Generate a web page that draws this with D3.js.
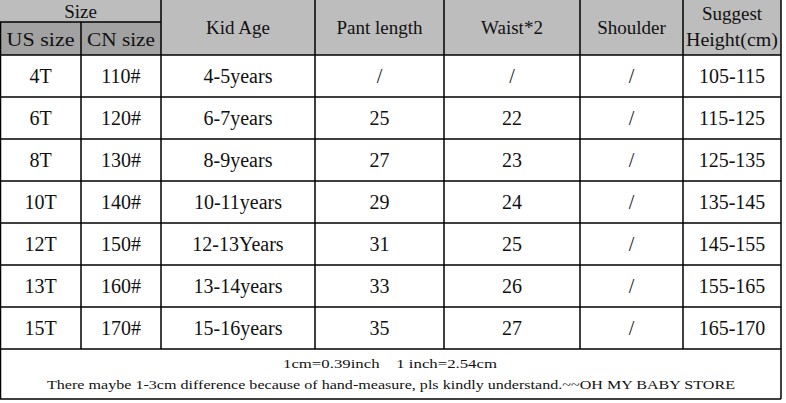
<!DOCTYPE html>
<html>
<head>
<meta charset="utf-8">
<script src="https://cdn.jsdelivr.net/npm/d3@7"></script>
<style>
  body { margin: 0; background: #fff; }
</style>
</head>
<body>
<div id="table"></div>
<script>
// table data, one array per column
var usSizes = ["4T", "6T", "8T", "10T", "12T", "13T", "15T"];
var cnSizes = ["110#", "120#", "130#", "140#", "150#", "160#", "170#"];
var kidAges = ["4-5years", "6-7years", "8-9years", "10-11years", "12-13Years", "13-14years", "15-16years"];
var pantLength = ["/", "25", "27", "29", "31", "33", "35"];
var waist2 = ["/", "22", "23", "24", "25", "26", "27"];
var shoulder = ["/", "/", "/", "/", "/", "/", "/"];
var suggestHeight = ["105-115", "115-125", "125-135", "135-145", "145-155", "155-165", "165-170"];

var headers = ["Kid Age", "Pant length", "Waist*2", "Shoulder"];
var footerNotes = ["1cm=0.39inch    1 inch=2.54cm",
    "There maybe 1-3cm difference because of hand-measure, pls kindly understand.~~OH MY BABY STORE"];

// layout
var width = 786, height = 403;
var colEdges = [0, 81, 161, 315, 444, 580, 683, 781];
var headTop = 0, headMid = 22, headBottom = 55, bodyBottom = 349, footBottom = 399;
var serif = "'Liberation Serif', 'DejaVu Serif', 'Times New Roman', serif";

var columns = [usSizes, cnSizes, kidAges, pantLength, waist2, shoulder, suggestHeight];

var svg = d3.select("#table").append("svg")
    .attr("width", width)
    .attr("height", height)
    .attr("font-family", serif)
    .attr("fill", "#111");

var g = svg.append("g");

// row scale
var y = d3.scaleBand()
    .domain(d3.range(usSizes.length))
    .range([headBottom, bodyBottom]);

function colCenter(i) { return (colEdges[i] + colEdges[i + 1]) / 2; }

// header backgrounds
g.append("rect")
    .attr("x", 0).attr("y", headTop)
    .attr("width", colEdges[7]).attr("height", headBottom)
    .attr("fill", "#bdbdbd");

g.append("rect")
    .attr("x", 0).attr("y", headMid)
    .attr("width", colEdges[2]).attr("height", headBottom - headMid)
    .attr("fill", "#a2a2a2");

// header texts
g.append("text")
    .attr("x", colCenter(0) + 40).attr("y", 18)
    .attr("text-anchor", "middle")
    .attr("font-size", "19px")
    .text("Size");

g.selectAll(".subHead")
    .data(["US size", "CN size"])
    .enter().append("text")
    .attr("class", "subHead")
    .attr("x", function (d, i) { return colCenter(i); })
    .attr("y", 46)
    .attr("text-anchor", "middle")
    .attr("font-size", "19px")
    .attr("textLength", 68)
    .attr("lengthAdjust", "spacingAndGlyphs")
    .text(function (d) { return d; });

g.selectAll(".head")
    .data(headers)
    .enter().append("text")
    .attr("class", "head")
    .attr("x", function (d, i) { return colCenter(i + 2); })
    .attr("y", 34)
    .attr("text-anchor", "middle")
    .attr("font-size", "19px")
    .text(function (d) { return d; });

g.append("text")
    .attr("x", colCenter(6)).attr("y", 20)
    .attr("text-anchor", "middle")
    .attr("font-size", "19px")
    .text("Suggest");

g.append("text")
    .attr("x", colEdges[6] + 3).attr("y", 46)
    .attr("font-size", "18px")
    .attr("textLength", 92)
    .attr("lengthAdjust", "spacingAndGlyphs")
    .text("Height(cm)");

// body cells
columns.forEach(function (col, ci) {
    g.selectAll(".cell" + ci)
        .data(col)
        .enter().append("text")
        .attr("class", "cell" + ci)
        .attr("x", colCenter(ci))
        .attr("y", function (d, ri) { return y(ri) + y.bandwidth() / 2 + 7; })
        .attr("text-anchor", "middle")
        .attr("font-size", "20px")
        .text(function (d) { return d; });
});

// footer notes
g.append("text")
    .attr("x", 390).attr("y", 368)
    .attr("text-anchor", "middle")
    .attr("font-size", "13px")
    .attr("textLength", 214)
    .attr("lengthAdjust", "spacingAndGlyphs")
    .attr("xml:space", "preserve")
    .text(footerNotes[0]);

g.append("text")
    .attr("x", 391).attr("y", 389)
    .attr("text-anchor", "middle")
    .attr("font-size", "13px")
    .attr("textLength", 688)
    .attr("lengthAdjust", "spacingAndGlyphs")
    .text(footerNotes[1]);

// grid lines
var lines = g.append("g")
    .attr("stroke", "#000")
    .attr("stroke-width", 1.5);

// horizontal
lines.append("line").attr("x1", 0).attr("x2", colEdges[2]).attr("y1", headMid).attr("y2", headMid);
lines.selectAll(".hline")
    .data(d3.range(usSizes.length + 1))
    .enter().append("line")
    .attr("class", "hline")
    .attr("x1", 0).attr("x2", colEdges[7])
    .attr("y1", function (d) { return d < usSizes.length ? y(d) : bodyBottom; })
    .attr("y2", function (d) { return d < usSizes.length ? y(d) : bodyBottom; });
lines.append("line").attr("x1", 0).attr("x2", colEdges[7]).attr("y1", footBottom).attr("y2", footBottom);

// vertical
lines.selectAll(".vline")
    .data(colEdges.slice(1, 7))
    .enter().append("line")
    .attr("class", "vline")
    .attr("x1", function (d) { return d; })
    .attr("x2", function (d) { return d; })
    .attr("y1", function (d, i) { return i === 0 ? headMid : headTop; })
    .attr("y2", bodyBottom);
lines.append("line").attr("x1", colEdges[7]).attr("x2", colEdges[7]).attr("y1", 0).attr("y2", footBottom);
lines.append("line").attr("x1", 0.5).attr("x2", 0.5).attr("y1", headMid).attr("y2", footBottom);
</script>
</body>
</html>
